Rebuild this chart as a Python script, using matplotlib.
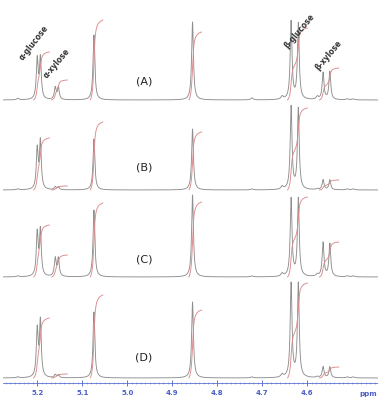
import numpy as np
import matplotlib
matplotlib.use("Agg")
import matplotlib.pyplot as plt

# peak positions (ppm), grouped as in the spectrum
groups = ["a-glc", "a-xyl", "p507", "hdo", "b-glc", "b-xyl"]
group_ppm = [[5.200, 5.193], [5.160, 5.153], [5.074], [4.855], [4.636, 4.620], [4.565, 4.550]]

# peak heights for each panel (same order as group_ppm, flattened)
heights_A = [40, 41, 12, 12, 65, 78, 78, 76, 27, 28]
heights_B = [40, 48, 3, 3, 51, 61, 83, 81, 10, 10]
heights_C = [43, 46, 18, 18, 67, 82, 78, 78, 34, 33]
heights_D = [47, 56, 3, 3, 66, 76, 94, 94, 11, 11]

# integral heights per group for each panel
integ_A = [48, 20, 80, 68, 72, 32]
integ_B = [52, 4, 68, 58, 82, 10]
integ_C = [52, 22, 74, 75, 80, 35]
integ_D = [60, 4, 83, 68, 95, 11]

# small baseline bumps (ppm, height)
bumps_ppm = [5.243, 4.723, 4.656, 4.578, 4.511, 4.498]
bumps_A = [1.5, 2, 3, 3, 1, 1]
bumps_B = [1, 1, 3, 1, 1, 1]
bumps_C = [1, 1, 3, 2, 1, 1]
bumps_D = [1, 1, 3, 1, 1, 1]

# baselines (pixels above x axis)
baselines = [283, 193, 106, 5]
panel_names = ["(A)", "(B)", "(C)", "(D)"]
label_y = [301, 216, 123, 25]

tick_vals = [5.2, 5.1, 5.0, 4.9, 4.8, 4.7, 4.6]

gamma = 0.0024
x = np.linspace(5.276, 4.443, 4000)


def lor(x0, h):
    return h / (1 + ((x - x0) / gamma) ** 2)


fig = plt.figure(figsize=(3.9, 4.07), dpi=100)
ax = fig.add_axes([3 / 390, 24 / 407, 375 / 390, 383 / 407])

all_heights = [heights_A, heights_B, heights_C, heights_D]
all_integ = [integ_A, integ_B, integ_C, integ_D]
all_bumps = [bumps_A, bumps_B, bumps_C, bumps_D]

for base, hts, integ, bmp, name, ly in zip(baselines, all_heights, all_integ,
                                          all_bumps, panel_names, label_y):
    y = np.zeros_like(x)
    k = 0
    group_curves = []
    for pk in group_ppm:
        g = np.zeros_like(x)
        for p in pk:
            g += lor(p, hts[k])
            k += 1
        group_curves.append(g)
        y += g
    for p, h in zip(bumps_ppm, bmp):
        y += h / (1 + ((x - p) / 0.003) ** 2)
    ax.plot(x, base + y, color="#8e8e8e", lw=0.65)

    # integrals (rising left to right)
    for pk, g, ih in zip(group_ppm, group_curves, integ):
        m = (x <= max(pk) + 0.008) & (x >= min(pk) - 0.02)
        c = np.cumsum(g[m])
        c = c / c[-1] * ih
        ax.plot(x[m], base + c, color="#dc8a8a", lw=0.65)

    ax.text(4.963, ly, name, fontsize=8, color="#222222", ha="center", va="center")

# annotations on top panel
ax.text(5.227, 321, "α-glucose", rotation=52, rotation_mode="anchor", fontsize=5.5,
        fontweight="bold", color="#333333", ha="left", va="bottom")
ax.text(5.175, 303, "α-xylose", rotation=50, rotation_mode="anchor", fontsize=5.5,
        fontweight="bold", color="#333333", ha="left", va="bottom")
ax.text(4.640, 333, "β-glucose", rotation=50, rotation_mode="anchor", fontsize=5.5,
        fontweight="bold", color="#333333", ha="left", va="bottom")
ax.text(4.570, 311, "β-xylose", rotation=50, rotation_mode="anchor", fontsize=5.5,
        fontweight="bold", color="#333333", ha="left", va="bottom")

ax.set_xlim(5.276, 4.443)
ax.set_ylim(0, 383)
for s in ["top", "left", "right"]:
    ax.spines[s].set_visible(False)
ax.spines["bottom"].set_color("#5a6fd0")
ax.spines["bottom"].set_linewidth(0.6)
ax.spines["bottom"].set_linestyle((0, (2, 1)))
ax.set_yticks([])
ax.set_xticks(tick_vals)
ax.set_xticklabels([f"{v:.1f}" for v in tick_vals])
ax.set_xticks(np.arange(4.45, 5.28, 0.01), minor=True)
ax.tick_params(axis="x", which="major", direction="inout", length=4, width=0.6,
               colors="#4a5fc8", labelsize=5, pad=3)
ax.tick_params(axis="x", which="minor", direction="inout", length=2, width=0.4,
               colors="#6a7fd8")
for t in ax.get_xticklabels():
    t.set_fontweight("bold")
ax.text(4.465, -11, "ppm", fontsize=5, fontweight="bold", color="#4a5fc8",
        ha="center", va="center")

fig.savefig("out.png", dpi=100)
